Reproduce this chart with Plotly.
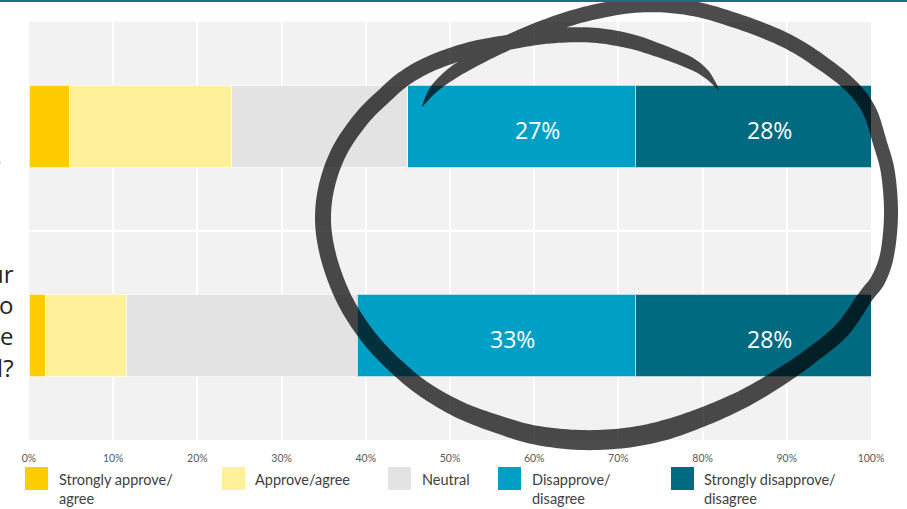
import numpy as np
import plotly.graph_objects as go

# ---- data ---------------------------------------------------------------
questions = [
    "How do you feel about the proposed<br>changes to your organisation's<br>"
    "return-to-office policy?",
    "How much do you approve of your<br>employer's decision to<br>"
    "reduce hybrid and flexible<br>working in general?<br>\u00a0",
]
series_names = [
    "Strongly approve/<br>agree",
    "Approve/agree",
    "Neutral",
    "Disapprove/<br>disagree",
    "Strongly disapprove/<br>disagree",
]
strongly_approve = [4.8, 2.0]
approve = [19.3, 9.6]
neutral = [20.9, 27.4]
disapprove = [27, 33]
strongly_disapprove = [28, 28]
labelled = [False, False, False, True, True]

series_values = [strongly_approve, approve, neutral, disapprove, strongly_disapprove]
colors = ["#FFCC00", "#FFF199", "#E3E3E3", "#00A0C6", "#006A80"]
x_ticks = list(range(0, 101, 10))

# ---- geometry of the figure (pixels) --------------------------------------
W, H = 907, 509
L, R, T, B = 29, 36, 22, 69
PW, PH = W - L - R, H - T - B


def px_to_paper(x, y):
    return (x - L) / PW, (H - B - y) / PH


fig = go.Figure()
annotations = []
base = [0.0] * len(questions)
for name, vals, col, lab in zip(series_names, series_values, colors, labelled):
    fig.add_trace(go.Bar(
        orientation="h",
        y=questions,
        x=vals,
        name=name.replace("<br>", " "),
        marker=dict(color=col, line=dict(color="rgba(255,255,255,0.7)", width=1)),
        hoverinfo="skip",
        showlegend=False,
    ))
    if lab:
        for q, b0, v in zip(questions, base, vals):
            annotations.append(dict(
                x=b0 + v / 2, y=q, xref="x", yref="y", text=f"{v:g}%",
                showarrow=False, xshift=16, yshift=-3,
                font=dict(family="Open Sans", size=23, color="white"),
            ))
    base = [b0 + v for b0, v in zip(base, vals)]

# question labels, right-aligned against the left edge
label_right_px = [3, 15.5]
label_yshift = [-9, 0]
for q, rx, ys in zip(questions, label_right_px, label_yshift):
    ax, _ = px_to_paper(rx, 0)
    annotations.append(dict(
        x=ax, y=q, xref="paper", yref="y", text=q, xanchor="right", yanchor="middle",
        align="right", showarrow=False, yshift=ys,
        font=dict(family="Open Sans", size=24, color="#262626"),
    ))

# ---- hand-drawn circle: variable-width pen stroke -----------------------
stroke_pts = [
    (422, 107), (433, 90), (450, 75), (472, 61), (505, 44), (545, 27),
    (590, 13), (640, 5), (690, 8), (740, 22), (785, 40), (818, 60),
    (850, 85), (869, 110), (880, 143), (888, 173), (891, 215), (887, 255),
    (878, 280), (866, 296), (842, 330), (812, 355), (782, 376), (745, 398),
    (705, 416), (665, 430), (625, 438), (580, 440), (535, 435), (500, 425),
    (460, 410), (425, 390), (400, 370), (375, 345), (355, 318), (340, 290),
    (328, 255), (323, 220), (327, 185), (340, 150), (362, 118), (385, 95),
    (405, 78), (432, 63), (470, 50), (510, 42), (550, 36), (590, 35),
    (625, 40), (652, 48), (688, 62), (706, 74), (719, 90),
]
stroke_w = [0, 8, 12, 14, 15, 15, 15, 15, 15, 15, 15, 15, 14, 14, 14, 14, 14, 14,
            15, 15, 16, 16, 17, 18, 19, 20, 20, 20, 19, 18, 17, 16, 16, 16, 16,
            16, 16, 16, 16, 16, 16, 16, 16, 16, 16, 15, 15, 15, 15, 14, 12, 8, 0]


def catmull_rom(points, n=10):
    p = np.asarray(points, float)
    p = np.vstack([p[0], p, p[-1]])
    out = []
    for i in range(1, len(p) - 2):
        p0, p1, p2, p3 = p[i - 1], p[i], p[i + 1], p[i + 2]
        for t in np.linspace(0, 1, n, endpoint=False):
            out.append(0.5 * (2 * p1 + (p2 - p0) * t
                              + (2 * p0 - 5 * p1 + 4 * p2 - p3) * t * t
                              + (3 * p1 - p0 - 3 * p2 + p3) * t ** 3))
    out.append(p[-2])
    return np.array(out)


def stroke_path(points, widths, n=10):
    c = catmull_rom(points, n)
    w = np.interp(np.linspace(0, len(widths) - 1, len(c)),
                  np.arange(len(widths)), widths)
    tang = np.gradient(c, axis=0)
    tang /= np.linalg.norm(tang, axis=1, keepdims=True)
    nrm = np.column_stack([-tang[:, 1], tang[:, 0]])
    left = c + nrm * (w[:, None] / 2)
    right = c - nrm * (w[:, None] / 2)
    poly = np.vstack([left, right[::-1]])
    parts = []
    for k, (x, y) in enumerate(poly):
        xp, yp = px_to_paper(x, y)
        parts.append(("M" if k == 0 else "L") + f"{xp:.5f},{yp:.5f}")
    return " ".join(parts) + " Z"


shapes = [
    dict(type="path", path=stroke_path(stroke_pts, stroke_w), xref="paper", yref="paper",
         fillcolor="black", opacity=0.7, line=dict(width=0), layer="above",
         fillrule="nonzero"),
]

# thin teal rule across the top of the page
x0, y0 = px_to_paper(0, 1)
x1, _ = px_to_paper(W, 1)
shapes.append(dict(type="line", xref="paper", yref="paper", x0=x0, x1=x1, y0=y0, y1=y0,
                   line=dict(color="#1E7080", width=2)))

# ---- legend drawn below the axis -----------------------------------------
legend_sq_x = [25, 222, 388, 498, 671]
legend_txt_x = [57, 253, 420, 530, 702]
for name, col, sx, tx in zip(series_names, colors, legend_sq_x, legend_txt_x):
    a0, b0 = px_to_paper(sx, 467)
    a1, b1 = px_to_paper(sx + 23, 490)
    shapes.append(dict(type="rect", xref="paper", yref="paper", x0=a0, x1=a1, y0=b1, y1=b0,
                       fillcolor=col, line=dict(width=0)))
    ax, ay = px_to_paper(tx, 469)
    annotations.append(dict(text=name, xref="paper", yref="paper", x=ax, y=ay,
                            xanchor="left", yanchor="top", align="left", showarrow=False,
                            font=dict(family="Lato", size=14.5, color="#404040")))

fig.update_layout(
    width=W, height=H,
    margin=dict(l=L, r=R, t=T, b=B, autoexpand=False),
    barmode="stack",
    bargap=0.607,
    plot_bgcolor="#F2F2F2",
    paper_bgcolor="white",
    shapes=shapes,
    annotations=annotations,
    xaxis=dict(
        range=[0, 100], tickvals=x_ticks, ticktext=[f"{v}%" for v in x_ticks],
        showgrid=True, gridcolor="white", gridwidth=1.5, zeroline=False,
        showline=False, ticks="", ticklabelstandoff=10,
        tickfont=dict(family="Lato", size=10.5, color="#595959"),
        fixedrange=True,
    ),
    yaxis=dict(
        type="category", autorange="reversed", tickson="boundaries",
        showgrid=True, gridcolor="white", gridwidth=1.5, zeroline=False,
        showline=False, ticks="", showticklabels=False, automargin=False,
        fixedrange=True,
    ),
    showlegend=False,
)

fig.write_html("out.html")
